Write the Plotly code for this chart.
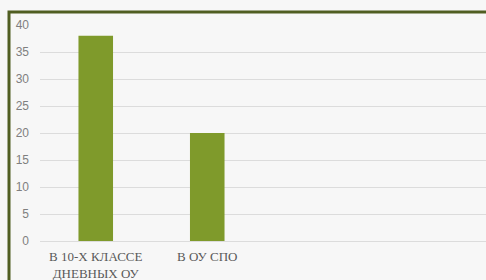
import plotly.graph_objects as go

categories = ["В 10-Х КЛАССЕ<br>ДНЕВНЫХ ОУ", "В ОУ СПО", " ", "  "]
values = [38, 20, None, None]
y_ticks = [0, 5, 10, 15, 20, 25, 30, 35, 40]

fig = go.Figure(go.Bar(x=categories, y=values, marker_color="#7f9a2b",
                       marker_line_width=0))

fig.update_layout(
    width=486, height=280,
    margin=dict(l=40, r=0, t=25, b=38.5),
    paper_bgcolor="#f7f7f7", plot_bgcolor="#f7f7f7",
    bargap=0.69, showlegend=False,
    xaxis=dict(type="category", showgrid=False, showline=False, ticks="",
               tickfont=dict(family="Liberation Serif", size=13, color="#595959"),
               ticklabelstandoff=6),
    yaxis=dict(range=[0, 40], tickvals=y_ticks, showgrid=True,
               gridcolor="#dcdcdc", gridwidth=1, zeroline=True,
               zerolinecolor="#dcdcdc", zerolinewidth=1, showline=False,
               ticks="", ticklabelstandoff=10,
               tickfont=dict(family="Liberation Sans", size=12, color="#7f7f7f")),
)

fig.add_shape(type="rect", xref="paper", yref="paper",
              x0=-0.0695, x1=1.2, y0=-0.3, y1=1.06,
              line=dict(color="#505e22", width=3), fillcolor="rgba(0,0,0,0)",
              layer="below")

fig.write_html("out.html", config={"displayModeBar": False},
               post_script="document.body.style.margin='0';"
                           "document.body.style.overflow='hidden';"
                           "document.body.style.background='#f7f7f7';")
